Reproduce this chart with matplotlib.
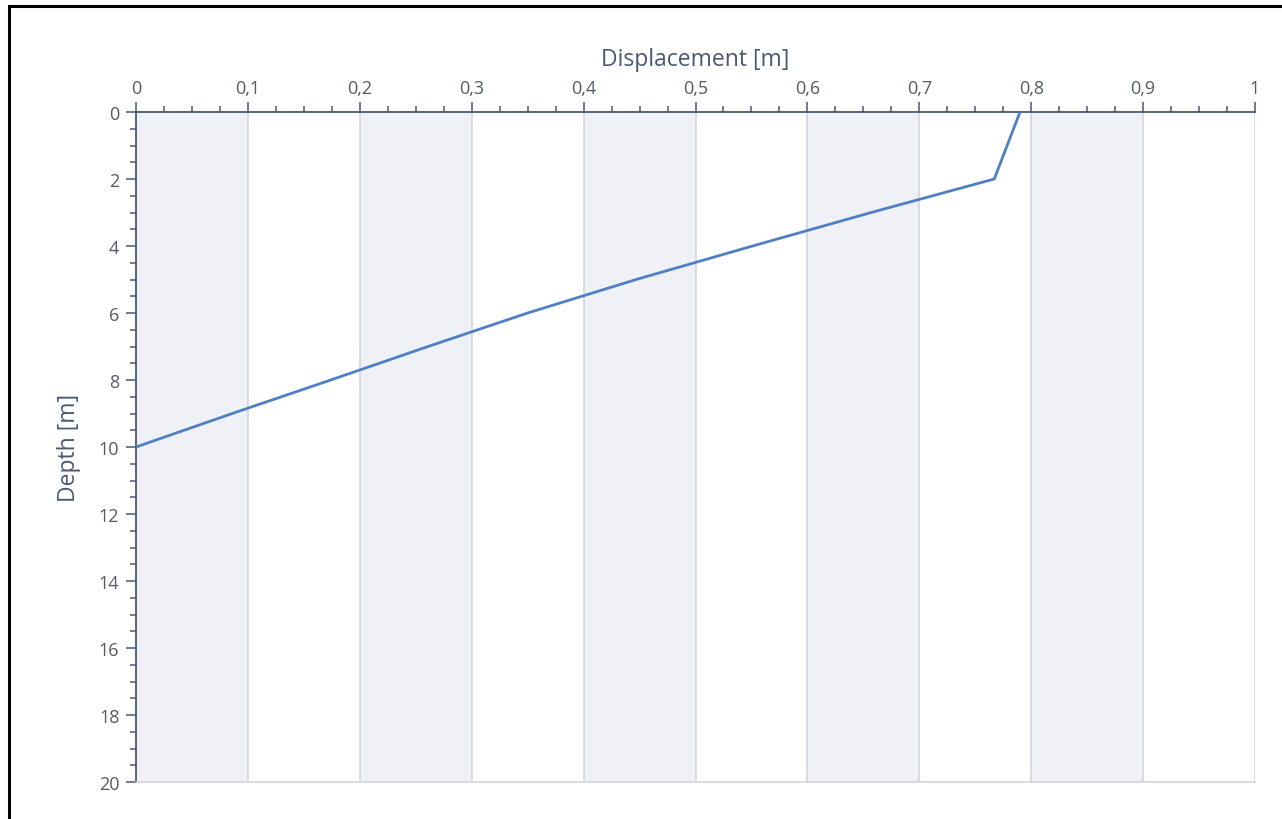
import matplotlib
matplotlib.use("Agg")
import matplotlib.pyplot as plt
from matplotlib.ticker import MultipleLocator, FuncFormatter
from matplotlib.lines import Line2D

# displacement profile along depth
depth = [0, 2, 3, 4, 5, 6, 7, 8, 9, 10]
displacement = [0.79, 0.767, 0.657, 0.551, 0.447, 0.35, 0.261, 0.174, 0.086, 0.0]

band_edges = [0.0, 0.2, 0.4, 0.6, 0.8]

plt.rcParams['font.family'] = ['Open Sans', 'DejaVu Sans']

W, H = 1282, 820
fig = plt.figure(figsize=(W / 100, H / 100), dpi=100)
ax = fig.add_axes([136 / W, 1 - 783 / H, (1255 - 136) / W, (783 - 113) / H])

axis_col = '#4b5872'
grid_col = '#cfd2da'
text_col = '#555b66'

# alternating shaded columns
for x0 in band_edges:
    ax.axvspan(x0, x0 + 0.1, color='#eff1f6', lw=0, zorder=0)
for gx in [i / 10 for i in range(1, 11)]:
    ax.axvline(gx, color=grid_col, lw=1.1, zorder=1)

ax.plot(displacement, depth, color='#4f7fc4', lw=2.0, zorder=3,
        solid_joinstyle='miter')

ax.set_xlim(0, 1)
ax.set_ylim(20, 0)

ax.xaxis.tick_top()
ax.xaxis.set_label_position('top')
ax.xaxis.set_major_locator(MultipleLocator(0.1))
ax.xaxis.set_minor_locator(MultipleLocator(0.025))
ax.yaxis.set_major_locator(MultipleLocator(2))
ax.yaxis.set_minor_locator(MultipleLocator(0.5))


def comma_fmt(v, pos):
    if abs(v - round(v)) < 1e-9:
        return str(int(round(v)))
    return ('%.1f' % v).replace('.', ',')


ax.xaxis.set_major_formatter(FuncFormatter(comma_fmt))

ax.tick_params(axis='x', which='major', length=7, width=1.1, color=axis_col,
               labelsize=13, labelcolor=text_col, pad=4)
ax.tick_params(axis='x', which='minor', length=4, width=1.1, color=axis_col)
ax.tick_params(axis='y', which='major', length=7, width=1.1, color=axis_col,
               labelsize=13, labelcolor=text_col, pad=5)
ax.tick_params(axis='y', which='minor', length=4, width=1.1, color=axis_col)

ax.spines['top'].set_color(axis_col)
ax.spines['top'].set_linewidth(1.3)
ax.spines['left'].set_color(axis_col)
ax.spines['left'].set_linewidth(1.3)
ax.spines['bottom'].set_color(grid_col)
ax.spines['bottom'].set_linewidth(1.1)
ax.spines['right'].set_visible(False)

ax.set_xlabel('Displacement [m]', fontsize=16.5, color=axis_col, labelpad=10)
ax.set_ylabel('Depth [m]', fontsize=16.5, color=axis_col, labelpad=13)

# outer frame on top and left edges
fig.add_artist(Line2D([9 / W, 9 / W], [0, 1 - 7 / H], color='black', lw=2.2))
fig.add_artist(Line2D([9 / W, 1], [1 - 7 / H, 1 - 7 / H], color='black', lw=2.2))

fig.savefig('out.png', dpi=100)
